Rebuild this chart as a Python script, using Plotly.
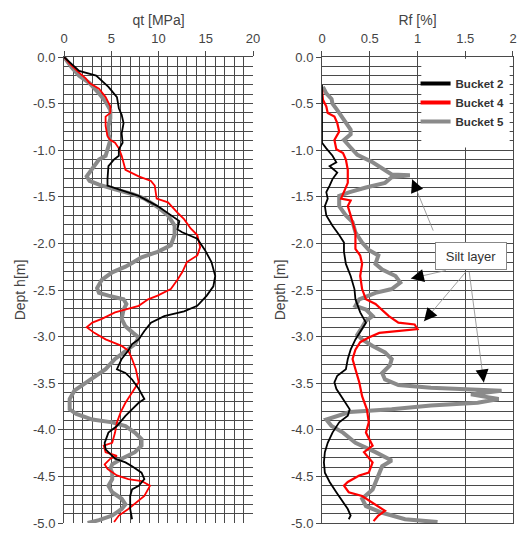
import math
import plotly.graph_objects as go

# ---------------- data ----------------
SERIES = ["Bucket 2", "Bucket 4", "Bucket 5"]
COLORS = {"Bucket 2": "#000000", "Bucket 4": "#ff0000", "Bucket 5": "#8a8a8a"}

# Cone resistance qt [MPa] vs depth [m]
qt_b2_depth = [0, -0.15, -0.2, -0.32, -0.43, -0.55, -0.62, -0.71, -0.82, -0.92,
               -0.99, -1.06, -1.1, -1.17, -1.31, -1.38, -1.42, -1.49, -1.6, -1.7,
               -1.76, -1.85, -1.88, -1.95, -2.07, -2.2, -2.35, -2.46, -2.56, -2.67,
               -2.73, -2.78, -2.85, -2.94, -3.03, -3.08, -3.15, -3.24, -3.35, -3.39,
               -3.46, -3.56, -3.67, -3.71, -3.78, -3.85, -3.96, -4.03, -4.14, -4.21,
               -4.31, -4.35, -4.39, -4.46, -4.53, -4.6, -4.64, -4.71, -4.85, -4.96]
qt_b2 = [0, 1.6, 3.4, 4.7, 5.6, 5.8, 6.1, 6.3, 6.1, 6.2,
         5.8, 5.8, 5.3, 4.7, 4.6, 4.6, 5.8, 7.9, 9.9, 11.3,
         12.2, 12.0, 12.5, 14.1, 14.9, 15.6, 16.0, 15.8, 15.1, 14.1,
         12.7, 10.6, 9.2, 8.5, 7.9, 7.2, 6.8, 6.1, 5.6, 6.5,
         7.2, 7.9, 8.5, 7.9, 7.2, 6.5, 5.6, 4.7, 4.3, 4.4,
         5.4, 6.5, 7.2, 8.2, 8.5, 7.9, 7.2, 7.0, 7.0, 7.2]

qt_b4_depth = [0, -0.07, -0.16, -0.23, -0.28, -0.34, -0.43, -0.53, -0.6, -0.64,
               -0.74, -0.85, -0.89, -0.92, -0.98, -1.06, -1.21, -1.28, -1.33, -1.38,
               -1.52, -1.56, -1.67, -1.74, -1.84, -1.91, -2.04, -2.13, -2.2, -2.31,
               -2.39, -2.49, -2.56, -2.6, -2.67, -2.71, -2.74, -2.81, -2.85, -2.9,
               -2.96, -3.03, -3.1, -3.15, -3.24, -3.35, -3.49, -3.6, -3.71, -3.81,
               -3.92, -4.03, -4.14, -4.17, -4.24, -4.28, -4.31, -4.37, -4.42, -4.49,
               -4.53, -4.55, -4.6, -4.71, -4.78, -4.85, -4.92, -4.99]
qt_b4 = [0, 0.6, 1.5, 2.3, 2.7, 3.7, 4.4, 4.9, 4.9, 4.4,
         4.4, 4.6, 4.9, 5.4, 5.8, 6.1, 6.5, 7.9, 9.2, 9.6,
         9.8, 11.0, 12.0, 12.7, 13.4, 14.1, 14.4, 14.1, 13.0, 12.5,
         12.0, 11.3, 9.9, 8.9, 7.9, 6.5, 5.4, 4.0, 3.0, 2.4,
         3.2, 4.4, 6.1, 6.8, 7.2, 7.6, 7.9, 7.2, 6.5, 6.0,
         5.6, 5.4, 5.1, 4.2, 4.4, 5.6, 4.9, 4.3, 4.6, 5.6,
         6.8, 8.2, 9.1, 8.5, 7.7, 6.8, 5.8, 5.3]

qt_b5_depth = [0, -0.11, -0.2, -0.28, -0.39, -0.48, -0.57, -0.66, -0.74, -0.83,
               -0.89, -0.98, -1.06, -1.1, -1.17, -1.24, -1.28, -1.33, -1.37, -1.42,
               -1.47, -1.52, -1.61, -1.7, -1.81, -1.91, -2.02, -2.09, -2.15, -2.21,
               -2.25, -2.31, -2.39, -2.48, -2.53, -2.56, -2.6, -2.65, -2.71, -2.81,
               -2.89, -2.96, -3.01, -3.08, -3.15, -3.24, -3.35, -3.42, -3.49, -3.58,
               -3.67, -3.78, -3.83, -3.89, -3.92, -3.96, -4.03, -4.1, -4.17, -4.24,
               -4.31, -4.37, -4.42, -4.46, -4.53, -4.6, -4.67, -4.74, -4.8, -4.85,
               -4.92, -4.97, -5.0]
qt_b5 = [0, 0.8, 1.6, 2.7, 3.7, 4.4, 4.9, 4.9, 4.7, 4.7,
         4.9, 4.6, 4.4, 3.7, 3.2, 2.7, 2.4, 2.7, 3.7, 5.4,
         7.2, 8.5, 9.9, 11.0, 11.7, 11.7, 11.3, 9.9, 8.2, 7.2,
         6.5, 5.1, 4.0, 3.5, 3.7, 4.7, 6.3, 6.6, 6.3, 6.1,
         6.5, 7.3, 7.9, 7.5, 6.5, 5.4, 4.4, 3.4, 2.3, 1.1,
         0.6, 0.6, 1.3, 3.0, 5.1, 6.5, 7.5, 8.2, 8.2, 7.5,
         6.1, 5.1, 4.9, 5.1, 5.1, 4.7, 5.1, 6.1, 6.5, 6.1,
         5.1, 3.7, 2.5]

# Friction ratio Rf [%] vs depth [m]
rf_b2_depth = [-0.3, -0.92, -0.98, -1.06, -1.13, -1.17, -1.24, -1.31, -1.38, -1.45,
               -1.52, -1.6, -1.7, -1.81, -1.91, -1.99, -2.09, -2.22, -2.35, -2.49,
               -2.6, -2.74, -2.85, -2.92, -3.03, -3.14, -3.24, -3.35, -3.42, -3.49,
               -3.56, -3.67, -3.78, -3.85, -3.92, -4.03, -4.14, -4.24, -4.35, -4.46,
               -4.56, -4.67, -4.78, -4.85, -4.92, -4.96]
rf_b2 = [0, 0, 0.045, 0.11, 0.15, 0.08, 0.16, 0.11, 0.08, 0.045,
         0.06, 0.03, 0.045, 0.11, 0.18, 0.23, 0.23, 0.25, 0.3, 0.34,
         0.35, 0.4, 0.46, 0.42, 0.35, 0.3, 0.27, 0.25, 0.16, 0.13,
         0.15, 0.22, 0.29, 0.27, 0.18, 0.11, 0.06, 0.03, 0.02, 0.03,
         0.08, 0.15, 0.22, 0.27, 0.3, 0.28]

rf_b4_depth = [-0.35, -0.46, -0.53, -0.6, -0.64, -0.71, -0.8, -0.85, -0.89, -0.99,
               -1.03, -1.1, -1.21, -1.35, -1.45, -1.52, -1.54, -1.6, -1.7, -1.88,
               -2.06, -2.13, -2.22, -2.35, -2.49, -2.6, -2.65, -2.72, -2.78, -2.85,
               -2.87, -2.92, -2.94, -2.96, -3.01, -3.06, -3.14, -3.24, -3.35, -3.49,
               -3.64, -3.78, -3.92, -4.03, -4.17, -4.24, -4.35, -4.46, -4.49, -4.56,
               -4.6, -4.67, -4.71, -4.78, -4.87, -4.92, -4.98]
rf_b4 = [0, 0.01, 0.045, 0.06, 0.13, 0.16, 0.18, 0.15, 0.13, 0.15,
         0.22, 0.25, 0.27, 0.27, 0.23, 0.2, 0.3, 0.27, 0.3, 0.35,
         0.35, 0.4, 0.42, 0.4, 0.42, 0.46, 0.56, 0.63, 0.7, 0.8,
         0.97, 1.0, 0.8, 0.6, 0.49, 0.4, 0.35, 0.32, 0.35, 0.39,
         0.42, 0.47, 0.49, 0.46, 0.53, 0.44, 0.53, 0.49, 0.39, 0.27,
         0.23, 0.28, 0.42, 0.53, 0.66, 0.59, 0.54]

rf_b5_depth = [-0.32, -0.39, -0.45, -0.5, -0.57, -0.67, -0.78, -0.83, -0.89, -0.96,
               -1.05, -1.13, -1.21, -1.26, -1.27, -1.29, -1.35, -1.38, -1.4, -1.45,
               -1.49, -1.6, -1.7, -1.77, -1.88, -1.99, -2.07, -2.13, -2.22, -2.28,
               -2.35, -2.42, -2.49, -2.53, -2.6, -2.67, -2.71, -2.78, -2.83, -2.9,
               -2.98, -3.03, -3.1, -3.17, -3.24, -3.31, -3.39, -3.46, -3.52, -3.55,
               -3.58, -3.62, -3.64, -3.67, -3.71, -3.74, -3.78, -3.81, -3.89, -3.96,
               -4.03, -4.14, -4.24, -4.33, -4.39, -4.49, -4.64, -4.74, -4.82, -4.89,
               -4.96, -4.99]
rf_b5 = [0.01, 0.045, 0.1, 0.11, 0.16, 0.23, 0.3, 0.3, 0.23, 0.29,
         0.37, 0.53, 0.66, 0.73, 0.92, 0.73, 0.66, 0.53, 0.46, 0.29,
         0.18, 0.18, 0.25, 0.32, 0.35, 0.42, 0.49, 0.59, 0.56, 0.63,
         0.77, 0.82, 0.73, 0.56, 0.39, 0.35, 0.46, 0.53, 0.46, 0.42,
         0.37, 0.42, 0.53, 0.66, 0.73, 0.71, 0.63, 0.66, 0.8, 1.14,
         1.88, 1.56, 1.66, 1.85, 1.63, 1.14, 0.73, 0.29, 0.045, 0.1,
         0.22, 0.35, 0.56, 0.73, 0.63, 0.59, 0.53, 0.42, 0.46, 0.63,
         0.87, 1.21]

# Tick labels
qt_ticks = [0, 5, 10, 15, 20]
rf_ticks = [0, 0.5, 1, 1.5, 2]
rf_tick_labels = ["0", "0.5", "1", "1.5", "2"]
depth_ticks = [0, -0.5, -1.0, -1.5, -2.0, -2.5, -3.0, -3.5, -4.0, -4.5, -5.0]
depth_tick_labels = ["0.0", "-0.5", "-1.0", "-1.5", "-2.0", "-2.5",
                     "-3.0", "-3.5", "-4.0", "-4.5", "-5.0"]

# Annotation "Silt layer": (head Rf, head depth, tail Rf, tail depth)
silt_arrows = [
    (0.944, -1.312, 1.171, -1.879),
    (0.931, -2.376, 1.312, -2.287),
    (1.068, -2.836, 1.522, -2.287),
    (1.694, -3.493, 1.539, -2.287),
]

# ---------------- figure ----------------
FONT = "Liberation Sans, Arial, sans-serif"
GRID = "#4a4a4a"
TXT = "#444444"
W, H = 524, 535
M = dict(l=64, r=4, t=57, b=8)
X2_DOMAIN = [0.5746, 1]

fig = go.Figure()

qt_data = {"Bucket 2": (qt_b2, qt_b2_depth),
           "Bucket 4": (qt_b4, qt_b4_depth),
           "Bucket 5": (qt_b5, qt_b5_depth)}
rf_data = {"Bucket 2": (rf_b2, rf_b2_depth),
           "Bucket 4": (rf_b4, rf_b4_depth),
           "Bucket 5": (rf_b5, rf_b5_depth)}
widths_qt = {"Bucket 2": 1.8, "Bucket 4": 1.8, "Bucket 5": 4}
widths_rf = {"Bucket 2": 1.8, "Bucket 4": 2.2, "Bucket 5": 4}

draw_order = ["Bucket 5", "Bucket 4", "Bucket 2"]
for name in draw_order:
    x, y = qt_data[name]
    fig.add_trace(go.Scatter(x=x, y=y, mode="lines", name=name, legendgroup=name,
                             showlegend=False, xaxis="x", yaxis="y",
                             line=dict(color=COLORS[name], width=widths_qt[name])))
for name in draw_order:
    x, y = rf_data[name]
    fig.add_trace(go.Scatter(x=x, y=y, mode="lines", name=name, legendgroup=name,
                             showlegend=False, xaxis="x2", yaxis="y2",
                             line=dict(color=COLORS[name], width=widths_rf[name])))
# legend entries
for name in SERIES:
    fig.add_trace(go.Scatter(x=[None], y=[None], mode="lines", name=name, legendgroup=name,
                             showlegend=True, xaxis="x2", yaxis="y2",
                             line=dict(color=COLORS[name], width=4)))

common_y = dict(range=[-5, 0], tickmode="array", tickvals=depth_ticks, ticktext=depth_tick_labels,
                showgrid=True, gridcolor=GRID, gridwidth=1, zeroline=False,
                ticks="outside", ticklen=5, tickcolor=GRID,
                minor=dict(dtick=0.1, showgrid=True, gridcolor=GRID, gridwidth=1),
                tickfont=dict(size=13, color=TXT, family=FONT),
                showline=True, linecolor=GRID, linewidth=1)

common_x = dict(side="top", showgrid=True, gridcolor=GRID, gridwidth=1, zeroline=False,
                ticks="outside", ticklen=5, tickcolor=GRID, ticklabelstandoff=3,
                ticklabeloverflow="allow",
                tickfont=dict(size=13, color=TXT, family=FONT),
                showline=True, linecolor=GRID, linewidth=1)

fig.update_layout(
    width=W, height=H,
    margin=M,
    paper_bgcolor="white", plot_bgcolor="white",
    font=dict(family=FONT, color=TXT),
    xaxis=dict(domain=[0, 0.4211], range=[0, 20], anchor="y",
               tickmode="array", tickvals=qt_ticks,
               minor=dict(dtick=1, showgrid=True, gridcolor=GRID, gridwidth=1),
               title=dict(text="qt [MPa]", font=dict(size=14, color=TXT), standoff=1),
               **common_x),
    yaxis=dict(domain=[0, 1], anchor="x",
               title=dict(text="Dept h[m]", font=dict(size=14, color=TXT), standoff=4),
               **common_y),
    xaxis2=dict(domain=X2_DOMAIN, range=[0, 2], anchor="y2",
                tickmode="array", tickvals=rf_ticks, ticktext=rf_tick_labels,
                title=dict(text="Rf [%]", font=dict(size=14, color=TXT), standoff=1),
                mirror=True, **common_x),
    yaxis2=dict(domain=[0, 1], anchor="x2", mirror=True,
                title=dict(text="Depth [m]", font=dict(size=14, color=TXT), standoff=2),
                **common_y),
    legend=dict(x=0.783, y=0.974, xanchor="left", yanchor="top",
                bgcolor="rgba(0,0,0,0)", tracegroupgap=0,
                font=dict(size=11.5, color="#333333", family=FONT, weight="bold")),
    showlegend=True,
)

# white area behind the legend (covers the grid)
fig.add_shape(type="rect", xref="x2", yref="y2", x0=1.04, x1=1.965, y0=-0.97, y1=-0.02,
              fillcolor="white", line=dict(width=0), layer="between")

# Silt layer label and arrows
fig.add_annotation(x=1.557, y=-2.139, xref="x2", yref="y2", text="Silt layer",
                   showarrow=False, bgcolor="white", bordercolor="#888888", borderwidth=1,
                   width=68, height=24, borderpad=1,
                   font=dict(size=13, color="#333333", family=FONT))

# pixel scale of the right panel (to keep only the arrow head black)
px_per_rf = (W - M["l"] - M["r"]) * (X2_DOMAIN[1] - X2_DOMAIN[0]) / 2.0
px_per_m = (H - M["t"] - M["b"]) / 5.0
for hx, hy, tx, ty in silt_arrows:
    length = math.hypot((hx - tx) * px_per_rf, (hy - ty) * px_per_m)
    fig.add_annotation(x=hx, y=hy, ax=tx, ay=ty, xref="x2", yref="y2", axref="x2", ayref="y2",
                       text="", showarrow=True, arrowhead=0, arrowwidth=0.8, arrowcolor="#888888")
    fig.add_annotation(x=hx, y=hy, ax=tx, ay=ty, xref="x2", yref="y2", axref="x2", ayref="y2",
                       text="", showarrow=True, arrowhead=2, arrowsize=2.6, arrowwidth=1,
                       arrowcolor="#000000", startstandoff=max(length - 9, 0))

fig.write_html("out.html", config={"displayModeBar": False},
               post_script="document.body.style.margin='0';")
